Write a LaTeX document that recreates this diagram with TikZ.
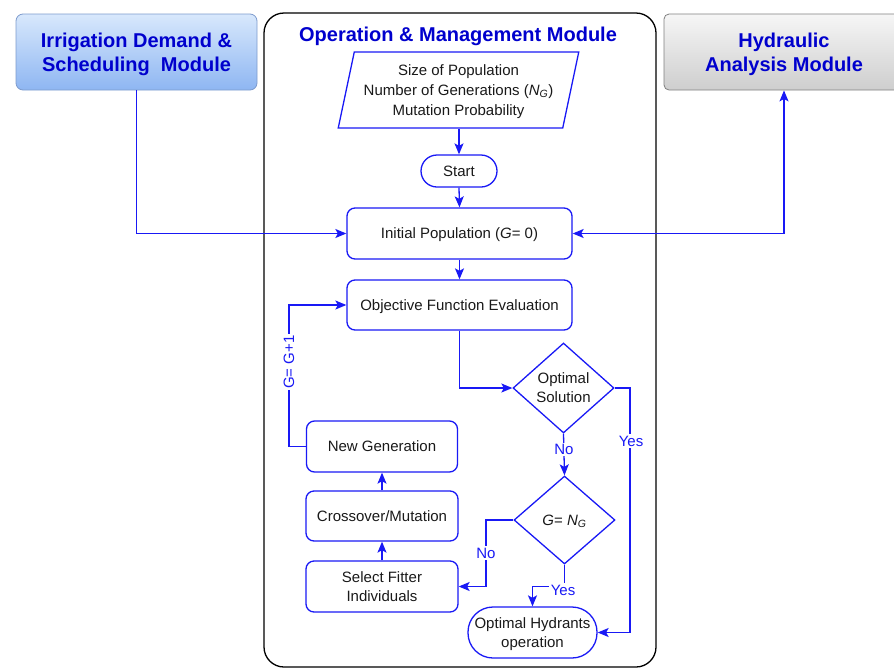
\documentclass[tikz,border=0pt]{standalone}
\usepackage{fontspec}
\setmainfont{Liberation Sans}
\usetikzlibrary{shapes.geometric,arrows.meta,calc}
\definecolor{lnblue}{RGB}{25,25,245}
\definecolor{ttlblue}{RGB}{0,0,205}
\definecolor{txt}{RGB}{25,25,25}
\definecolor{irtop}{RGB}{216,232,252}
\definecolor{irbot}{RGB}{142,182,242}
\definecolor{irbord}{RGB}{125,155,205}
\definecolor{hatop}{RGB}{246,246,246}
\definecolor{habot}{RGB}{206,206,206}
\begin{document}
\begin{tikzpicture}[x=1pt,y=-1pt,
  every node/.style={font=\fontsize{15}{19}\selectfont, text=txt, inner sep=0pt, text depth=0pt},
  flowbox/.style={draw=lnblue, line width=1.3pt, rounded corners=8pt, align=center},
  pillbox/.style={draw=lnblue, line width=1.3pt, align=center},
  dia/.style={diamond, draw=lnblue, line width=1.3pt, align=center, inner sep=0pt},
  tip/.tip={Stealth[length=11pt,width=9pt,inset=2.5pt]},
  arr/.style={draw=lnblue, line width=1.3pt, -tip},
  lbl/.style={text=lnblue, fill=white, inner sep=1.5pt},
  modtitle/.style={font=\fontsize{20}{24}\selectfont\bfseries, text=ttlblue, align=center}
]
\useasboundingbox (0,0) rectangle (894,670);
\clip (0,0) rectangle (894,670);

% container
\node[draw=black, line width=1.3pt, rounded corners=20pt, minimum width=392pt, minimum height=654pt] (oam) at (460,340) {};
\node[modtitle] (oamtitle) at (458,34) {Operation \& Management Module};

% side modules
\node[modtitle, draw=irbord, line width=0.8pt, rounded corners=7pt, top color=irtop, bottom color=irbot,
      minimum width=241pt, minimum height=76pt] (ird) at (136.5,52) {Irrigation Demand \&\\Scheduling\ \ Module};
\node[modtitle, draw=gray, line width=0.8pt, rounded corners=5pt, top color=hatop, bottom color=habot,
      minimum width=240pt, minimum height=76pt] (ham) at (784,52) {Hydraulic\\Analysis Module};

% flow nodes
\node[trapezium, trapezium left angle=74, trapezium right angle=106, trapezium stretches=true,
      draw=lnblue, line width=1.3pt, minimum width=241pt, minimum height=76pt, align=center,
      font=\fontsize{15}{20}\selectfont] (param) at (458.5,90)
      {Size of Population\\Number of Generations (\textit{N}\textsubscript{\textit{G}})\\Mutation Probability};
\node[pillbox, rounded corners=16pt, minimum width=76pt, minimum height=32pt] (start) at (459,171) {Start};
\node[flowbox, minimum width=225pt, minimum height=51pt] (init) at (459.5,233.5) {Initial Population (\textit{G}= 0)};
\node[flowbox, minimum width=225pt, minimum height=50pt] (obj) at (459.5,305) {Objective Function Evaluation};
\node[dia, minimum width=101pt, minimum height=90pt, aspect=1.12] (opt) at (563.5,388) {Optimal\\Solution};
\node[dia, minimum width=101pt, minimum height=88pt, aspect=1.15] (gn) at (564.5,520) {\textit{G}= \textit{N}\textsubscript{\textit{G}}};
\node[flowbox, minimum width=152pt, minimum height=51pt] (sel) at (382,586.5) {Select Fitter\\Individuals};
\node[flowbox, minimum width=152pt, minimum height=50pt] (cross) at (382,516) {Crossover/Mutation};
\node[flowbox, minimum width=151pt, minimum height=51pt] (newgen) at (382,446.5) {New Generation};
\node[pillbox, rounded corners=25pt, minimum width=129pt, minimum height=51pt] (hyd) at (532.5,632.5) {Optimal Hydrants\\operation};

% connectors
\draw[arr] (ird.south) |- (init.west);
\draw[draw=lnblue, line width=1.3pt, tip-tip] (init.east) -| (ham.south);
\draw[arr] (param.south -| start.north) -- (start.north);
\draw[arr] (start.south) -- (init.north);
\draw[arr] (init.south) -- (obj.north);
\draw[arr] (obj.south) |- (opt.west);
\draw[arr] (opt.south) -- node[lbl, pos=0.38] (nolbl1) {No} (gn.north);
\coordinate (yescorner) at (630,388);
\draw[arr] (opt.east) -- (yescorner) |- (hyd.east);
\node[lbl] (yeslbl1) at (631,441) {Yes};
\coordinate (nocorner) at (486,520);
\draw[arr] (gn.west) -- (nocorner) |- (sel.east);
\node[lbl] (nolbl2) at (486,553) {No};
\draw[arr] (gn.south) -- ++(0,22) -| (hyd.north);
\node[lbl] (yeslbl2) at (563,590) {Yes};
\draw[arr] (sel.north) -- (cross.south);
\draw[arr] (cross.north) -- (newgen.south);
\coordinate (loopcorner) at (289,446.5);
\draw[arr] (newgen.west) -- (loopcorner) |- (obj.west);
\node[lbl, rotate=90] (looplbl) at (289,362) {G= G+1};
\end{tikzpicture}
\end{document}
